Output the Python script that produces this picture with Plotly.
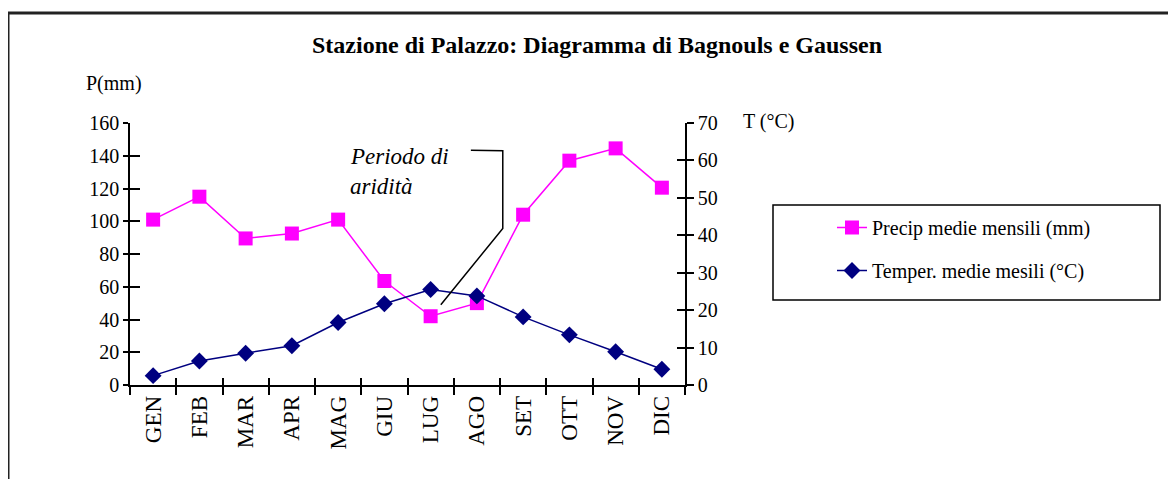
import plotly.graph_objects as go

months = ["GEN", "FEB", "MAR", "APR", "MAG", "GIU", "LUG", "AGO", "SET", "OTT", "NOV", "DIC"]
precip_mm = [101, 115, 89.5, 92.5, 101, 63.5, 42, 50, 104, 137, 144.5, 120.5]
temp_c = [2.5, 6.4, 8.5, 10.5, 16.7, 21.7, 25.5, 23.8, 18.2, 13.4, 8.9, 4.2]
p_ticks = [0, 20, 40, 60, 80, 100, 120, 140, 160]
t_ticks = [0, 10, 20, 30, 40, 50, 60, 70]

SERIF = "Liberation Serif, Times New Roman, serif"
OFF = 8  # page body margin
W, H = 1176 - OFF, 479 - OFF
L, R, T, B = 130 - OFF, 1176 - 685, 123 - OFF, 479 - 385
pw, ph = W - L - R, H - T - B

def px2paper(x, y):
    """reference page pixel -> paper coordinates"""
    return (x - OFF - L) / pw, (H - B - (y - OFF)) / ph

fig = go.Figure()
fig.add_trace(go.Scatter(
    x=months, y=precip_mm, name="Precip medie mensili (mm)", mode="lines+markers",
    line=dict(color="#FF00FF", width=1.5), marker=dict(symbol="square", size=14, color="#FF00FF"),
    yaxis="y", legendgroup="p"))
fig.add_trace(go.Scatter(
    x=months, y=temp_c, name="Temper. medie mesili (°C)", mode="lines+markers",
    line=dict(color="#000080", width=1.5), marker=dict(symbol="diamond", size=13, color="#000080"),
    yaxis="y2", legendgroup="t"))
# invisible traces carrying the overlay axes used for the inner half of crossing ticks
fig.add_trace(go.Scatter(x=months, y=precip_mm, xaxis="x2", yaxis="y3", mode="markers",
                         marker=dict(opacity=0), showlegend=False, hoverinfo="skip"))
fig.add_trace(go.Scatter(x=months, y=temp_c, xaxis="x2", yaxis="y4", mode="markers",
                         marker=dict(opacity=0), showlegend=False, hoverinfo="skip"))

yfont = dict(family=SERIF, size=20, color="black")
xfont = dict(family=SERIF, size=23, color="black")
fig.update_layout(
    width=W, height=H, margin=dict(l=L, r=R, t=T, b=B),
    paper_bgcolor="white", plot_bgcolor="white",
    font=dict(family=SERIF, color="black"),
    xaxis=dict(type="category", categoryorder="array", categoryarray=months, range=[-0.5, 11.5],
               tickson="boundaries", ticks="outside", ticklen=8, tickwidth=1.5, tickcolor="black",
               showline=True, linecolor="black", linewidth=1.5, showgrid=False, zeroline=False,
               tickangle=-90, tickfont=xfont),
    xaxis2=dict(type="category", categoryorder="array", categoryarray=months, range=[-0.5, 11.5],
                overlaying="x", anchor="y3", tickson="boundaries", ticks="inside", ticklen=7, tickwidth=1.5,
                tickcolor="black", showticklabels=False, showgrid=False, zeroline=False, showline=False),
    yaxis=dict(range=[0, 160], tickvals=p_ticks, ticks="outside", ticklen=5, tickwidth=1.5,
               tickcolor="black", showline=True, linecolor="black", linewidth=1.5, showgrid=False,
               zeroline=False, tickfont=yfont),
    yaxis2=dict(range=[0, 70], tickvals=t_ticks, overlaying="y", side="right", ticks="outside",
                ticklen=7, tickwidth=1.5, tickcolor="black", showline=True, linecolor="black",
                linewidth=1.5, showgrid=False, zeroline=False, tickfont=yfont),
    yaxis3=dict(range=[0, 160], tickvals=p_ticks, overlaying="y", side="left", anchor="x2",
                ticks="inside", ticklen=10, tickwidth=1.5, tickcolor="black", showticklabels=False,
                showgrid=False, zeroline=False, showline=False),
    yaxis4=dict(range=[0, 70], tickvals=t_ticks, overlaying="y", side="right", anchor="x2",
                ticks="inside", ticklen=8, tickwidth=1.5, tickcolor="black",
                showticklabels=False, showgrid=False, zeroline=False, showline=False),
    legend=dict(x=px2paper(832, 0)[0], y=px2paper(0, 208)[1], xanchor="left", yanchor="top",
                bgcolor="rgba(0,0,0,0)", borderwidth=0, tracegroupgap=14,
                font=dict(family=SERIF, size=20, color="black")),
    showlegend=True,
)

# outer frame
fx0, fy0 = px2paper(8, 13)
fx1, fy1 = px2paper(1200, 520)
fig.add_shape(type="rect", xref="paper", yref="paper", x0=fx0, y0=fy1, x1=fx1, y1=fy0,
              line=dict(color="#222222", width=3), layer="below")
# legend box
lx0, ly0 = px2paper(773, 205)
lx1, ly1 = px2paper(1160, 300)
fig.add_shape(type="rect", xref="paper", yref="paper", x0=lx0, y0=ly1, x1=lx1, y1=ly0,
              line=dict(color="black", width=1.5))

# bracket of the "Periodo di aridità" label (category index, P units)
fig.add_shape(type="path", xref="x", yref="y",
              path="M 6.87,143.4 L 7.56,143.0 L 7.56,95.6 L 6.22,49",
              line=dict(color="black", width=1.5))

ann = []
tx, ty = px2paper(597, 45)
ann.append(dict(text="<b>Stazione di Palazzo: Diagramma di Bagnouls e Gaussen</b>", x=tx, y=ty,
                xref="paper", yref="paper", xanchor="center", yanchor="middle", showarrow=False,
                font=dict(family=SERIF, size=24, color="black")))
ax_, ay_ = px2paper(114, 83)
ann.append(dict(text="P(mm)", x=ax_, y=ay_, xref="paper", yref="paper", showarrow=False,
                xanchor="center", yanchor="middle", font=dict(family=SERIF, size=20, color="black")))
bx_, by_ = px2paper(741, 121)
ann.append(dict(text="T (°C)", x=bx_, y=by_, xref="paper", yref="paper", showarrow=False,
                xanchor="left", yanchor="middle", font=dict(family=SERIF, size=20, color="black")))
ann.append(dict(text="<i>Periodo di</i>", x=4.22, y=139.8, xref="x", yref="y", showarrow=False,
                xanchor="left", yanchor="middle", font=dict(family=SERIF, size=23, color="black")))
ann.append(dict(text="<i>aridità</i>", x=4.22, y=121.5, xref="x", yref="y", showarrow=False,
                xanchor="left", yanchor="middle", font=dict(family=SERIF, size=23, color="black")))
fig.update_layout(annotations=ann)

fig.write_html("out.html")
